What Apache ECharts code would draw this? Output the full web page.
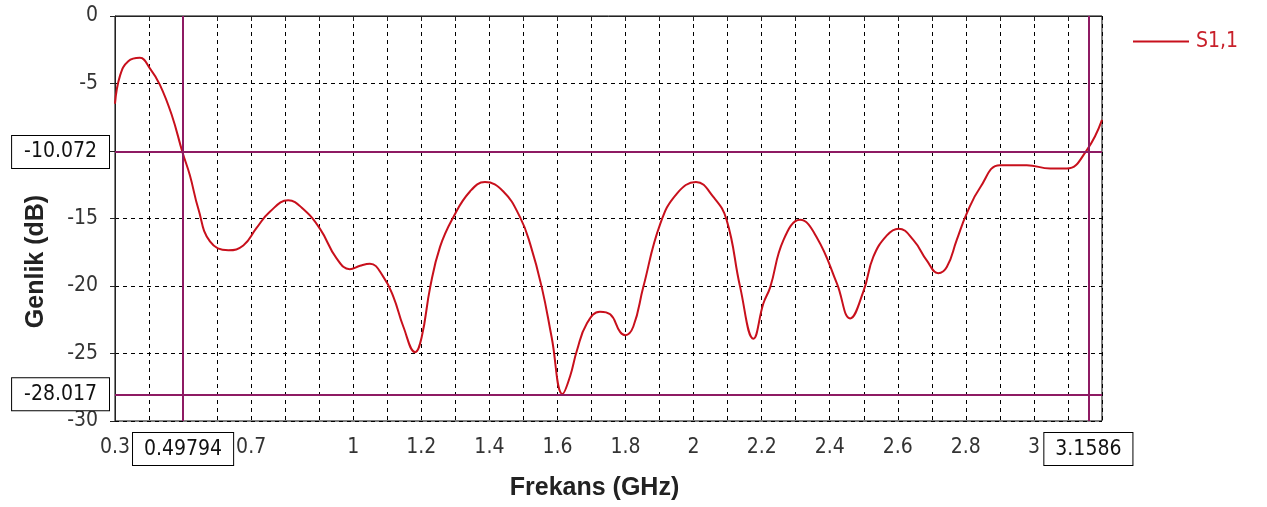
<!DOCTYPE html>
<html>
<head>
<meta charset="utf-8"/>
<title>S1,1</title>
<script type="text/javascript" src="https://cdn.jsdelivr.net/npm/echarts@6/dist/echarts.min.js"></script>
<style type="text/css">
	body{
		margin: 0px;
		padding: 0px;
		background: #fff;
	}
	#chart{
		width: 1267px;
		height: 507px;
	}
</style>
</head>
<body>
	<div id="chart"></div>
<script type="text/javascript">
	// 频率 (GHz)
	var freq = [0.300,0.315,0.339,0.373,0.403,0.432,0.467,0.498,0.520,0.545,0.579,0.633,0.677,0.716,0.755,0.809,0.853,0.902,0.951,0.990,
		1.020,1.049,1.088,1.118,1.147,1.182,1.201,1.226,1.255,1.294,1.343,1.387,1.441,1.490,1.520,1.554,1.583,1.615,1.637,1.657,
		1.686,1.725,1.755,1.784,1.799,1.823,1.852,1.902,1.951,2.007,2.058,2.097,2.137,2.176,2.205,2.225,2.264,2.313,2.362,2.421,
		2.460,2.499,2.528,2.568,2.602,2.646,2.685,2.719,2.744,2.773,2.803,2.842,2.900,2.979,3.048,3.097,3.155,3.200];
	// S1,1 (dB)
	var s11 = [-6.5,-4.4,-3.35,-3.1,-3.9,-5.1,-7.35,-10.07,-11.8,-14.3,-16.7,-17.35,-17.0,-15.7,-14.5,-13.65,-14.3,-15.75,-17.95,-18.75,
		-18.5,-18.35,-19.3,-20.8,-23.0,-24.9,-23.8,-20.1,-17.1,-14.9,-13.0,-12.3,-13.0,-14.9,-16.9,-20.1,-23.8,-28.0,-26.7,-24.8,
		-22.8,-21.9,-22.1,-23.4,-23.65,-23.0,-20.1,-15.4,-13.15,-12.3,-13.4,-15.1,-20.1,-23.9,-21.3,-20.1,-16.6,-15.1,-16.4,-19.8,
		-22.4,-20.4,-17.85,-16.25,-15.75,-16.6,-18.1,-19.05,-18.6,-16.6,-14.6,-12.7,-11.05,-11.05,-11.3,-11.3,-9.95,-7.7];
	// 标记
	var markX = [0.49794, 3.1586];
	var markY = [-10.072, -28.017];
	// 显示的刻度标签
	var xLabels = [0.3, 0.7, 1, 1.2, 1.4, 1.6, 1.8, 2, 2.2, 2.4, 2.6, 2.8, 3];
	var yLabels = [0, -5, -15, -20, -25, -30];

	var seriesData = [];
	for(var i=0;i<freq.length;i++){
		seriesData.push([freq[i], s11[i]]);
	}

	var tickFont = 'DejaVu Sans Condensed';
	var markColor = '#8e1a63';
	// 标记的方框标签
	function boxLabel(text, dist, padX){
		return {
			show: true,
			position: 'start',
			distance: dist,
			color: '#111',
			fontFamily: tickFont,
			fontSize: 21,
			backgroundColor: '#fff',
			borderColor: '#000',
			borderWidth: 1,
			padding: [6, padX, 5, padX],
			formatter: function(){ return text; }
		};
	}
	var lines = [];
	for(var i=0;i<markX.length;i++){
		lines.push({xAxis: markX[i], label: boxLabel(String(markX[i]), 12, 11)});
	}
	for(var i=0;i<markY.length;i++){
		lines.push({yAxis: markY[i], label: boxLabel(String(markY[i]), 6, 12)});
	}

	var myChart = echarts.init(document.getElementById('chart'));
	var option = {
		animation: false,
		legend: {
			left: 1128,
			top: 26,
			icon: 'rect',
			itemWidth: 56,
			itemHeight: 2,
			itemGap: 8,
			textStyle: {
				color: '#c8202a',
				fontFamily: tickFont,
				fontSize: 21,
				padding: [0, 0, 0, 2]
			},
			data: ['S1,1']
		},
		grid: {
			left: 115,
			right: 165,
			top: 16,
			bottom: 86,
			show: true,
			borderColor: '#000',
			borderWidth: 1
		},
		xAxis: {
			type: 'value',
			min: 0.3,
			max: 3.2,
			interval: 0.1,
			name: 'Frekans (GHz)',
			nameLocation: 'middle',
			nameGap: 55,
			nameTextStyle: {
				fontFamily: 'Liberation Sans',
				fontWeight: 'bold',
				fontSize: 25,
				color: '#222',
				padding: [0, 28, 0, 0]
			},
			axisLine: { lineStyle: { color: '#222', width: 1 } },
			axisTick: { show: true, length: 5, lineStyle: { color: '#222' } },
			axisLabel: {
				color: '#333',
				fontFamily: tickFont,
				fontSize: 21,
				margin: 16,
				showMinLabel: true,
				showMaxLabel: false,
				formatter: function(v){
					var n = Math.round(v*10)/10;
					return xLabels.indexOf(n) >= 0 ? String(n) : '';
				}
			},
			splitLine: {
				show: true,
				lineStyle: { color: '#000', type: [4, 4], width: 1 }
			}
		},
		yAxis: {
			type: 'value',
			min: -30,
			max: 0,
			interval: 5,
			name: 'Genlik (dB)',
			nameLocation: 'middle',
			nameGap: 66,
			nameTextStyle: {
				fontFamily: 'Liberation Sans',
				fontWeight: 'bold',
				fontSize: 25,
				color: '#222',
				padding: [0, 86, 0, 0]
			},
			axisLine: { show: true, lineStyle: { color: '#222', width: 1 } },
			axisTick: { show: true, length: 5, lineStyle: { color: '#222' } },
			axisLabel: {
				color: '#333',
				fontFamily: tickFont,
				fontSize: 21,
				margin: 17,
				formatter: function(v){
					return yLabels.indexOf(v) >= 0 ? String(v) : '';
				}
			},
			splitLine: {
				show: true,
				lineStyle: { color: '#000', type: [4, 4], width: 1 }
			}
		},
		series: [
			{
				name: 'S1,1',
				type: 'line',
				smooth: 0.45,
				showSymbol: false,
				lineStyle: { color: '#c8101c', width: 2 },
				itemStyle: { color: '#c8101c' },
				data: seriesData,
				markLine: {
					silent: true,
					symbol: 'none',
					animation: false,
					lineStyle: { color: markColor, width: 2, type: 'solid' },
					data: lines
				}
			}
		]
	};
	myChart.setOption(option);
</script>
</body>
</html>
